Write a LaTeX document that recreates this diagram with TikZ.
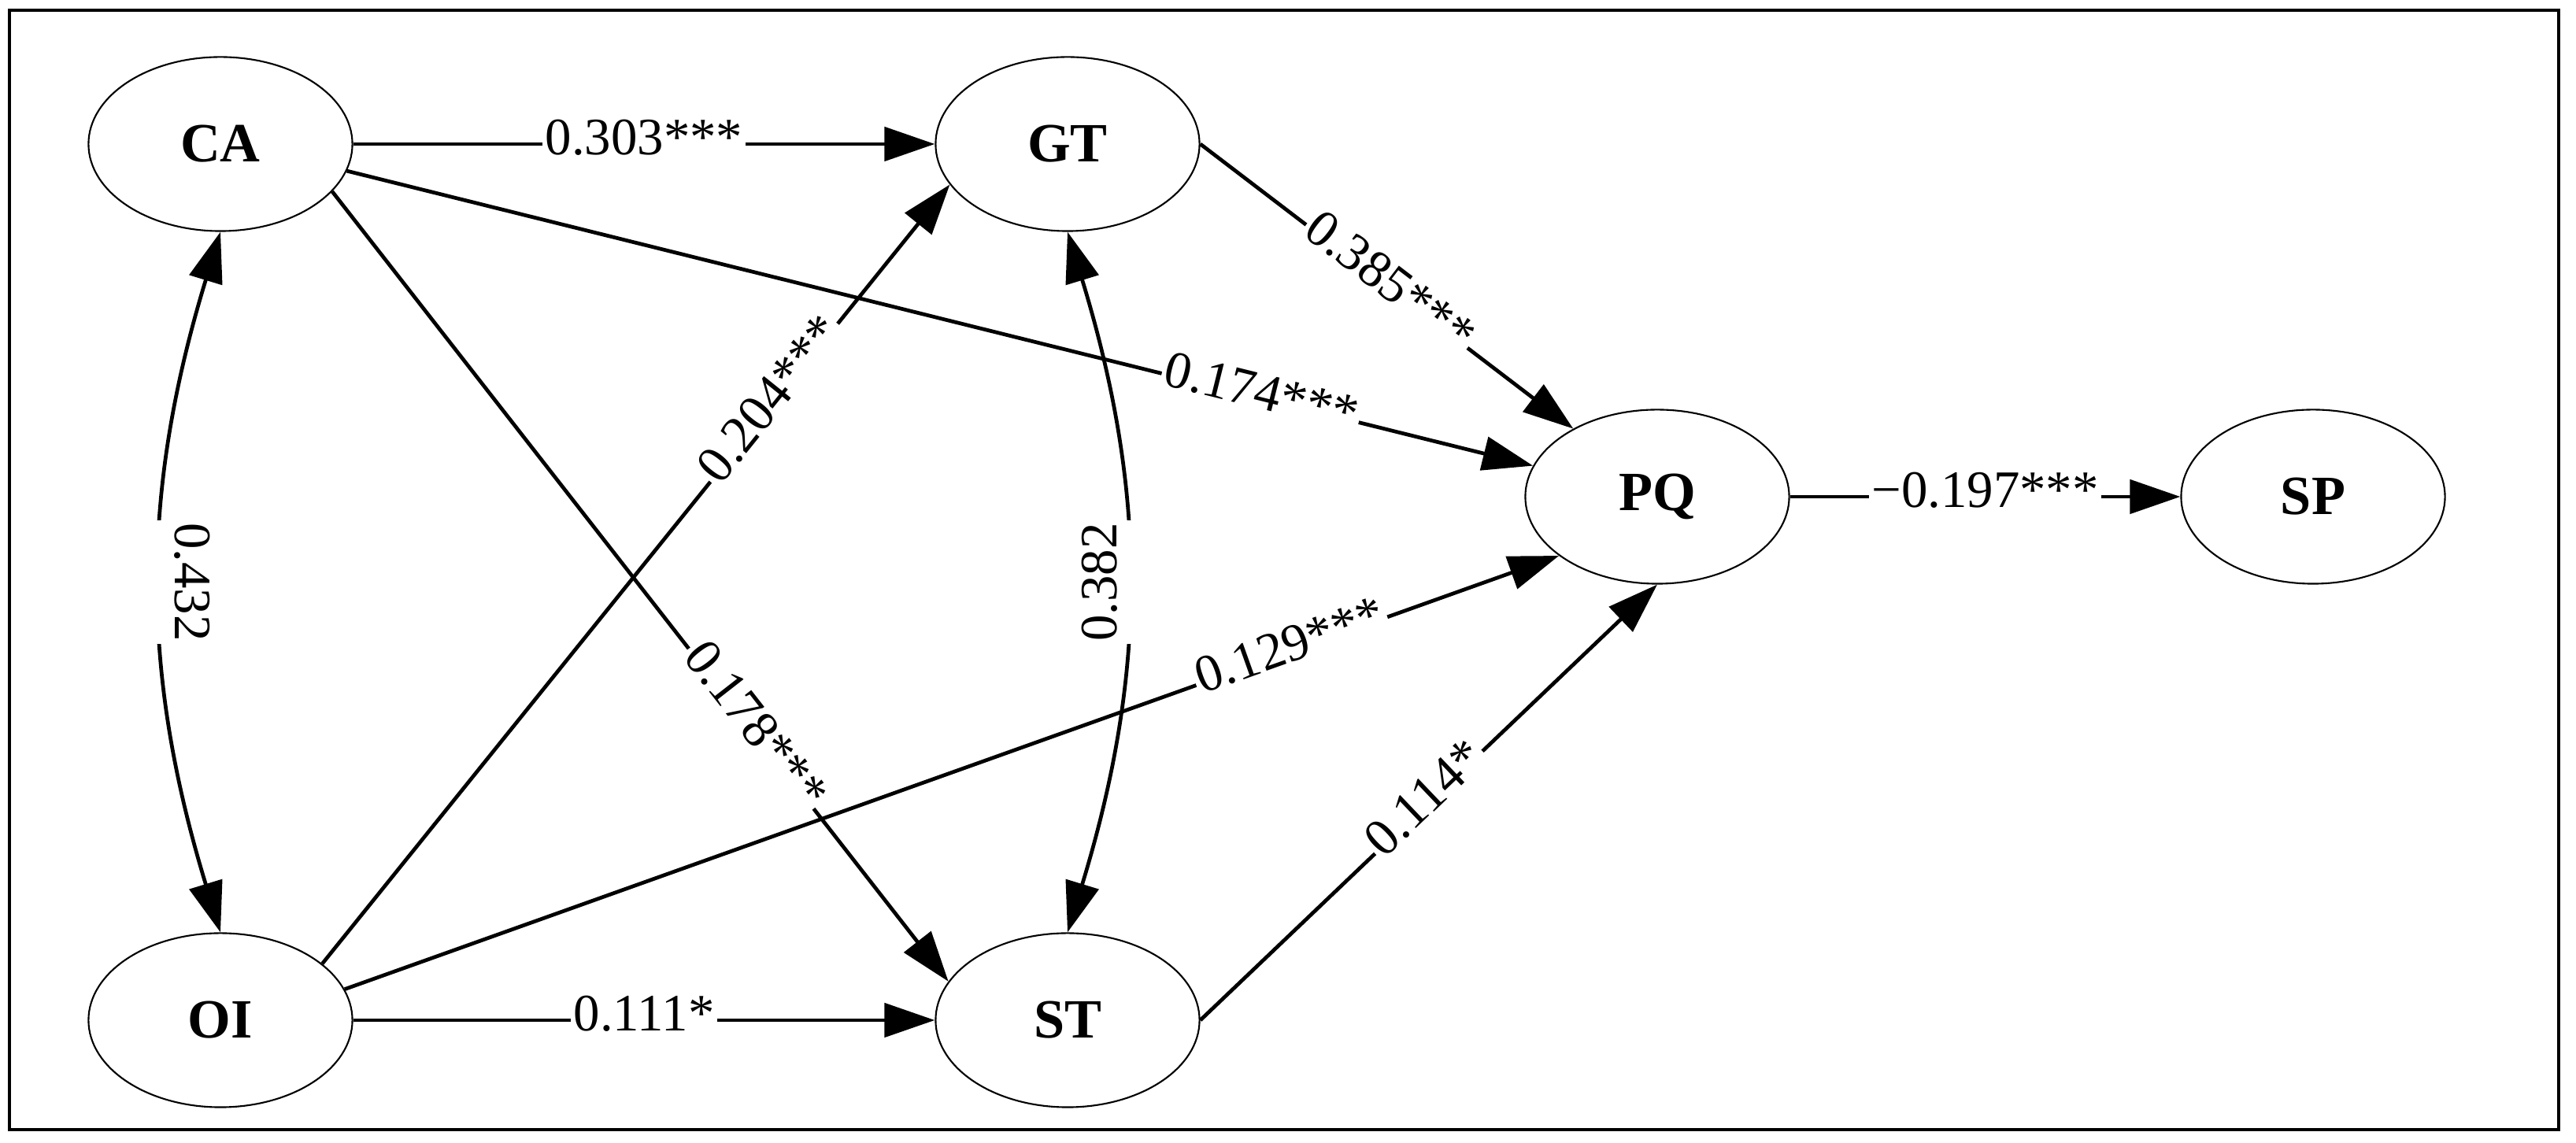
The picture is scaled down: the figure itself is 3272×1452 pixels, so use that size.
\documentclass[tikz,border=0pt]{standalone}
\usepackage{fontspec}
\setmainfont{Liberation Serif}
\usetikzlibrary{arrows.meta,shapes.geometric}
\begin{document}
\begin{tikzpicture}[x=0.01cm,y=0.01cm,
  latent/.style={ellipse, draw, line width=0.6pt, minimum width=3.35cm, minimum height=2.21cm, inner sep=0pt, font=\fontsize{20}{24}\selectfont\bfseries},
  effect/.style={line width=1.35pt, -{Triangle[length=0.64cm,width=0.43cm]}},
  covar/.style={line width=1.35pt, {Triangle[length=0.64cm,width=0.43cm]}-{Triangle[length=0.64cm,width=0.43cm]}},
  lab/.style={fill=white, inner sep=1pt, text height=13.3pt, text depth=5.7pt, font=\fontsize{19}{23}\selectfont},
  vlab/.style={lab, text depth=10pt}]
\useasboundingbox (0,0) rectangle (3272,1452);
\draw[line width=1.4pt] (12,17) rectangle (3250,1439);

\node[latent] (CA) at (280,1269) {CA};
\node[latent] (GT) at (1356,1269) {GT};
\node[latent] (OI) at (280,156) {OI};
\node[latent] (ST) at (1356,156) {ST};
\node[latent] (PQ) at (2105,821) {PQ};
\node[latent] (SP) at (2938,821) {SP};

\draw[effect] (CA.east) -- node[lab,pos=0.5] {0.303***} (GT.west);
\draw[effect] (CA.-12) -- node[lab,sloped,pos=0.77] {0.174***} (PQ.166);
\draw[effect] (CA.-23) -- node[lab,sloped,pos=0.68] {0.178***} (ST.162);
\draw[effect] (GT.east) -- node[lab,sloped,pos=0.5] {0.385***} (PQ.141);
\draw[effect] (OI.29) -- node[lab,sloped,pos=0.72] {0.204***} (GT.199);
\draw[effect] (OI.14) -- node[lab,sloped,pos=0.78] {0.129***} (PQ.211);
\draw[effect] (OI.east) -- node[lab,pos=0.5] {0.111*} (ST.west);
\draw[effect] (ST.east) -- node[lab,sloped,pos=0.5] {0.114*} (PQ.south);
\draw[effect] (PQ.east) -- node[lab,pos=0.5] {−0.197***} (SP.west);
\draw[covar] (CA.south) to[bend right=17] node[vlab,pos=0.5,xshift=0.24cm,rotate=-90] {0.432} (OI.north);
\draw[covar] (GT.south) to[bend left=17] node[vlab,pos=0.5,xshift=-0.19cm,rotate=90] {0.382} (ST.north);
\end{tikzpicture}
\end{document}
